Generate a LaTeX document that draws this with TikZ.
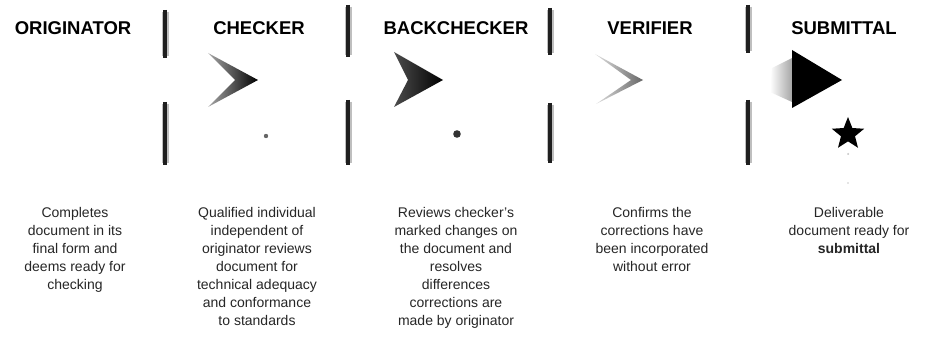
\documentclass[tikz,border=0pt]{standalone}
\usepackage{fontspec}
\setmainfont{Liberation Sans}
\usetikzlibrary{shapes.geometric}
\begin{document}
\begin{tikzpicture}[x=1pt,y=-1pt,
  head/.style={font=\fontsize{18.5}{22}\selectfont\bfseries, inner sep=0pt, anchor=base},
  desc/.style={font=\fontsize{14}{18}\selectfont, align=center, inner sep=0pt, anchor=north, text=black!85},
  bar/.style={line width=4.5pt, draw=black!88},
  halo/.style={line width=7pt, draw=black!25}]
\useasboundingbox[fill=white] (0,0) rectangle (932,339);

% headings
\node[head] (h1) at (73,35) {ORIGINATOR};
\node[head] (h2) at (259,35) {CHECKER};
\node[head] (h3) at (456,35) {BACKCHECKER};
\node[head] (h4) at (650,35) {VERIFIER};
\node[head] (h5) at (844,35) {SUBMITTAL};

% separator bars
\foreach \x/\a/\b/\c/\d in {165/10/58/102/165, 348/5/57/100/165, 550/8/55/103/163, 748/5/53/100/165}{
  \draw[halo] (\x,\a+2) -- (\x,\b-2);
  \draw[halo] (\x,\c+2) -- (\x,\d-2);
  \draw[bar] (\x,\a) -- (\x,\b);
  \draw[bar] (\x,\c) -- (\x,\d);
}

% chevrons
\shade[left color=black!35, right color=black] (208,53) -- (258,80) -- (208,107) -- (235,80) -- cycle;
\shade[left color=black!70, right color=black] (394,52) -- (443,80) -- (394,107) -- (408,80) -- cycle;
\shade[left color=black!12, right color=black!60] (595,54) -- (643,80) -- (596,104) -- (631,80) -- cycle;
\shade[left color=white, right color=black!35] (772,68) -- (792,58) -- (792,102) -- (770,92) -- cycle;
\fill[black] (792,50) -- (842,80) -- (792,108) -- cycle;

% star and dots
\node[star, star points=5, star point ratio=2.3, fill=black, minimum size=34pt, inner sep=0pt] (st) at (848,134) {};
\fill[black!60] (266,136) circle (2.2);
\fill[black!80] (457,134) circle (3.8);
\fill[black!25] (848,154) circle (1);
\fill[black!20] (848,183) circle (0.8);

% descriptions
\node[desc] (d1) at (75,207) {Completes\\document in its\\final form and\\deems ready for\\checking};
\node[desc] (d2) at (257,207) {Qualified individual\\independent of\\originator reviews\\document for\\technical adequacy\\and conformance\\to standards};
\node[desc] (d3) at (456,207) {Reviews checker's\\marked changes on\\the document and\\resolves\\differences\\corrections are\\made by originator};
\node[desc] (d4) at (652,207) {Confirms the\\corrections have\\been incorporated\\without error};
\node[desc] (d5) at (849,207) {Deliverable\\document ready for\\\textbf{submittal}};
\end{tikzpicture}
\end{document}
